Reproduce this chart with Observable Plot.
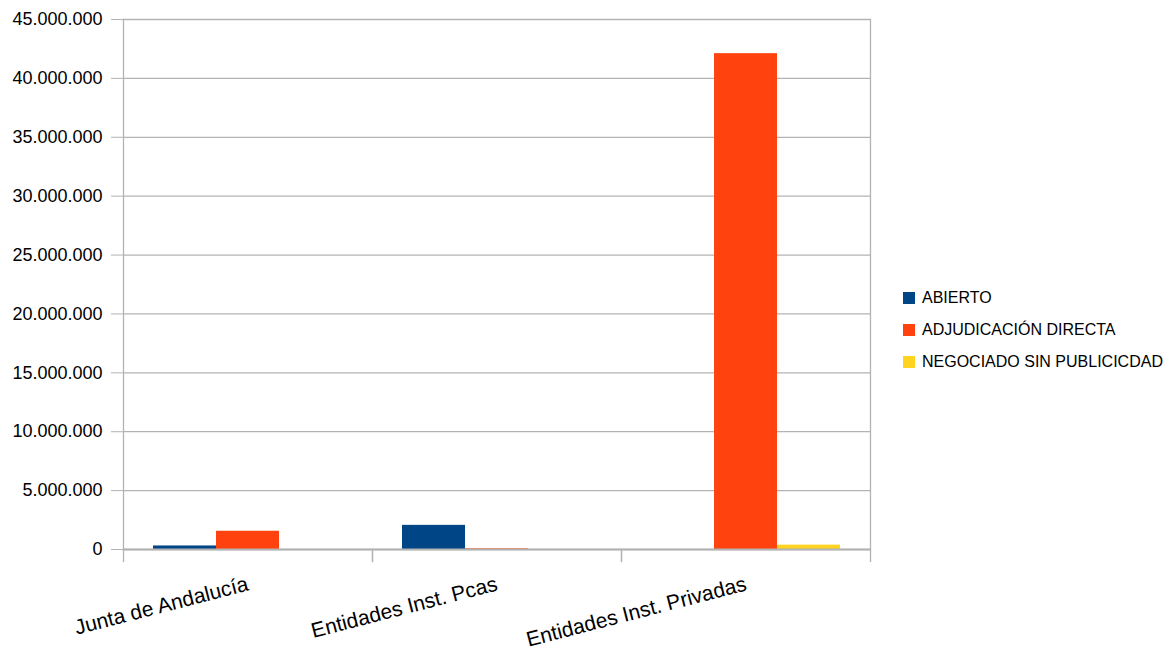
<!DOCTYPE html>
<html><head><meta charset="utf-8">
<script src="https://cdn.jsdelivr.net/npm/d3@7"></script>
<script src="https://cdn.jsdelivr.net/npm/@observablehq/plot@0.6"></script>
<style>
body{margin:0;background:#fff;}
#wrap{position:relative;width:1170px;height:652px;overflow:hidden;}
#legend{position:absolute;left:903px;top:282px;font-family:"Liberation Sans",Arial,sans-serif;font-size:16px;color:#000;}
.item{display:flex;align-items:center;height:32px;white-space:nowrap;}
.sw{width:12px;height:12px;margin-right:7px;flex:none;}
</style>
</head><body>
<div id="wrap"><div id="chart"></div><div id="legend"></div></div>
<script>
const groups = ["Junta de Andalucía", "Entidades Inst. Pcas", "Entidades Inst. Privadas"];
const series = ["ABIERTO", "ADJUDICACIÓN DIRECTA", "NEGOCIADO SIN PUBLICICDAD"];
const colors = ["#004586", "#ff420e", "#ffd320"];
const abierto = [300000, 2050000, 0];
const adjudicacion = [1550000, 60000, 42100000];
const negociado = [0, 0, 370000];
const yTicks = [0, 5000000, 10000000, 15000000, 20000000, 25000000, 30000000, 35000000, 40000000, 45000000];

const valuesBySeries = [abierto, adjudicacion, negociado];
const rows = groups.flatMap((g, i) => series.map((s, j) => ({group: g, series: s, value: valuesBySeries[j][i]})));
const fmt = d3.formatLocale({decimal: ",", thousands: ".", grouping: [3]}).format(",");
const grid = "#b3b3b3";

const chart = Plot.plot({
  width: 1170, height: 652,
  marginLeft: 122, marginRight: 300, marginTop: 19, marginBottom: 103,
  style: {fontFamily: "Liberation Sans, Arial, sans-serif", color: "#000", background: "#fff"},
  fx: {domain: groups, padding: 0, label: null, axis: null},
  x: {domain: series, paddingInner: 0, paddingOuter: 0.476, axis: null},
  y: {domain: [0, 45000000], label: null},
  color: {domain: series, range: colors},
  marks: [
    Plot.ruleY(yTicks, {stroke: grid, strokeWidth: 1.3}),
    Plot.frame({anchor: "left", facet: "super", stroke: grid, strokeWidth: 1.3}),
    Plot.frame({anchor: "right", facet: "super", stroke: grid, strokeWidth: 1.3}),
    Plot.frame({anchor: "left", stroke: grid, strokeWidth: 1.3, insetTop: 530, insetBottom: -12}),
    Plot.frame({anchor: "right", stroke: grid, strokeWidth: 1.3, insetTop: 530, insetBottom: -12}),
    Plot.barY(rows, {fx: "group", x: "series", y: "value", fill: "series"}),
    Plot.ruleY([0], {stroke: grid, strokeWidth: 2}),
    Plot.axisY({ticks: yTicks, tickSize: 12, tickPadding: 9, tickFormat: fmt, fontSize: 18, stroke: grid, fill: "#000", label: null}),
    Plot.axisFx({anchor: "bottom", tickSize: 0, tickRotate: -14.5, tickPadding: 34, fontSize: 21, fill: "#000", label: null})
  ]
});
document.getElementById("chart").appendChild(chart);

const legend = document.getElementById("legend");
series.forEach((s, i) => {
  const it = document.createElement("div");
  it.className = "item";
  const sw = document.createElement("div");
  sw.className = "sw";
  sw.style.background = colors[i];
  const t = document.createElement("span");
  t.textContent = s;
  it.appendChild(sw); it.appendChild(t);
  legend.appendChild(it);
});
</script>
</body></html>
